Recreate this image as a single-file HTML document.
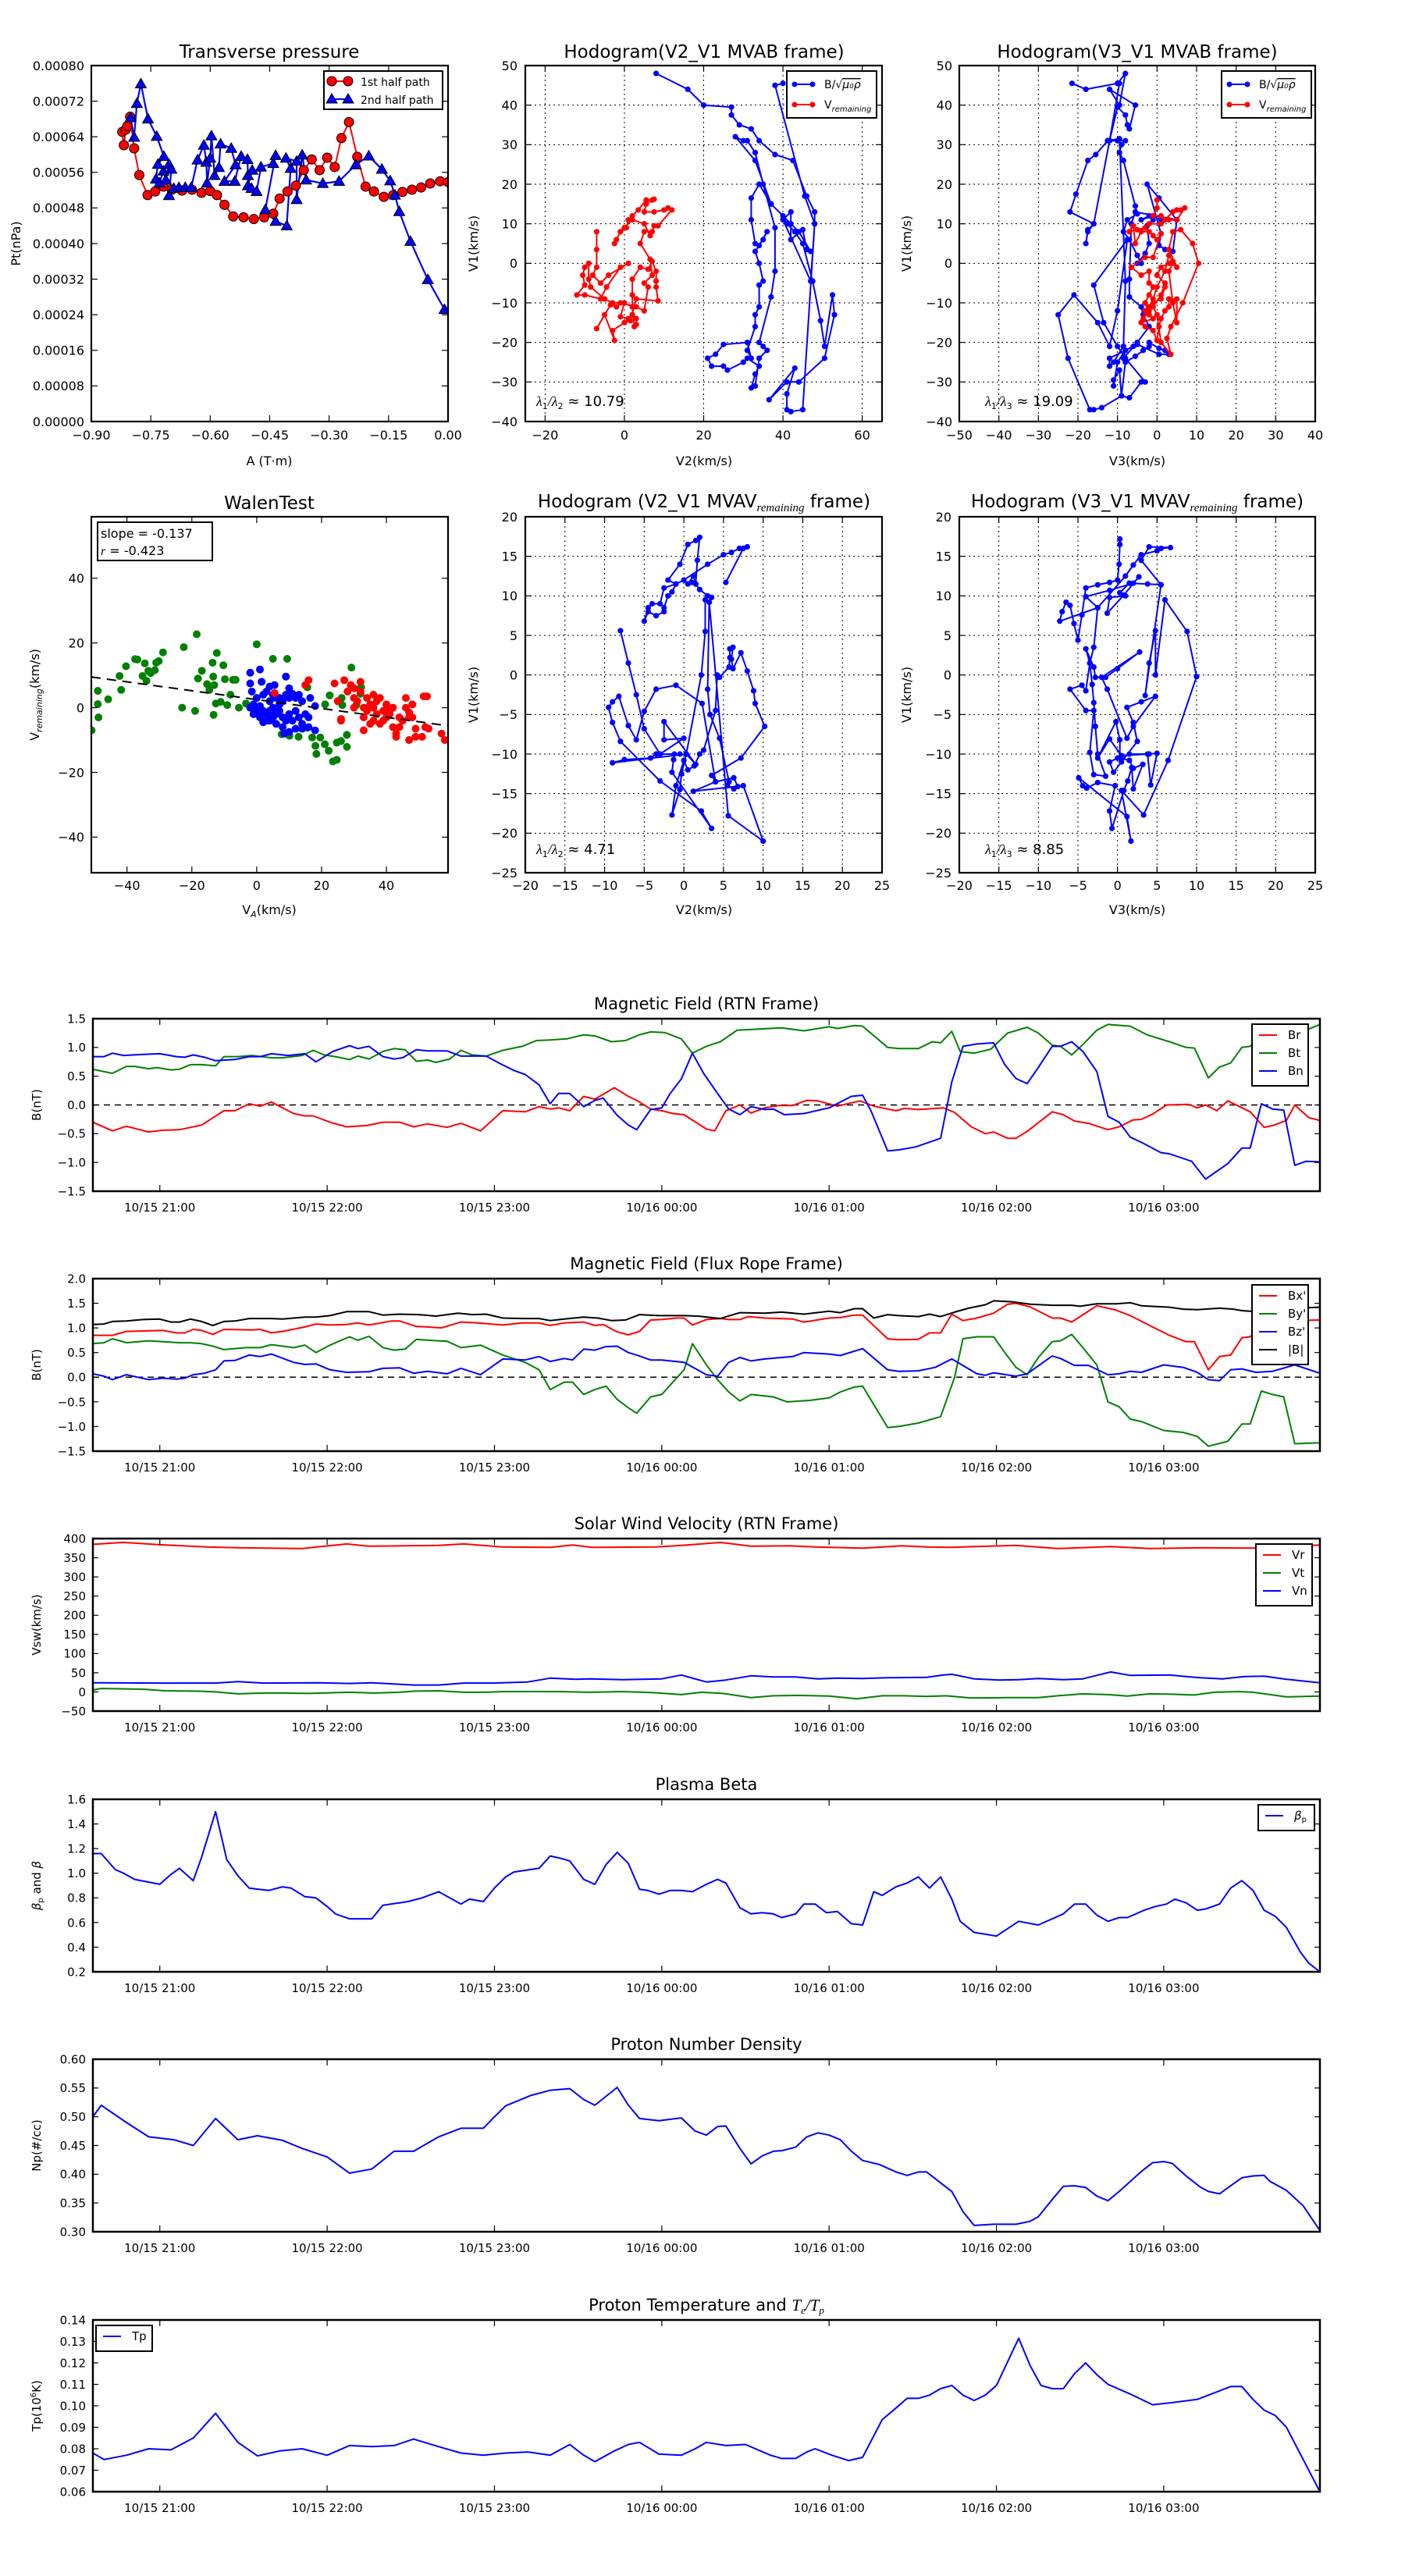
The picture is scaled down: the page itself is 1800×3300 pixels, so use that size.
<!DOCTYPE html>
<html><head><meta charset="utf-8">
<style>
html,body{margin:0;padding:0;background:#fff;}
svg{display:block;font-family:"DejaVu Sans","Liberation Sans",sans-serif;}
</style></head>
<body>
<svg id="fig" xmlns="http://www.w3.org/2000/svg" width="1800" height="3300" viewBox="0 0 1800 3300">
<rect x="0" y="0" width="1800" height="3300" fill="#fff"/>
</svg>
<script>
// ---------------- DATA ----------------
// Transverse pressure (Pt in units of 1e-5 nPa)
const p1A = [-0.822,-0.818,-0.813,-0.809,-0.802,-0.792,-0.779,-0.758,-0.739,-0.718,-0.697,-0.671,-0.646,-0.622,-0.60,-0.583,-0.564,-0.542,-0.516,-0.49,-0.464,-0.441,-0.425,-0.405,-0.384,-0.364,-0.344,-0.324,-0.305,-0.286,-0.269,-0.25,-0.229,-0.208,-0.187,-0.162,-0.138,-0.115,-0.091,-0.068,-0.045,-0.02,0];
const p1Pt = [65.1,62.1,65.6,66.4,68.5,61.4,55.4,50.9,51.7,52.8,52.1,51.9,52.1,51.4,51.8,50.9,48.7,46.1,45.9,45.5,45.9,46.7,50.1,51.7,53,56.5,58.9,56.5,59.3,57.2,63.7,67.3,59.5,52.8,51.7,50.5,50.9,51.6,52.1,52.6,53.5,54,53.8];
const p2A = [-0.801,-0.792,-0.785,-0.775,-0.757,-0.735,-0.717,-0.732,-0.737,-0.728,-0.718,-0.712,-0.704,-0.698,-0.704,-0.692,-0.679,-0.663,-0.648,-0.632,-0.616,-0.61,-0.608,-0.60,-0.597,-0.589,-0.578,-0.574,-0.547,-0.536,-0.564,-0.538,-0.522,-0.506,-0.505,-0.494,-0.505,-0.496,-0.483,-0.472,-0.441,-0.435,-0.461,-0.435,-0.407,-0.397,-0.409,-0.382,-0.382,-0.368,-0.358,-0.316,-0.275,-0.233,-0.2,-0.167,-0.146,-0.134,-0.123,-0.095,-0.051,-0.009];
const p2Pt = [68.3,63.9,71.5,75.9,68,64.1,59.6,57.8,54.5,53.6,56.3,54.3,57.8,56.7,50.8,52.4,52.6,52.6,52.6,58.8,62.1,58.3,53.6,59.2,64.2,55.3,57.1,62.4,61.4,57.7,54,54,59.6,58.9,55.3,56.5,53,52.4,51.7,57.2,58,59.8,47.6,45,44,56.9,59.2,58.5,49.9,59.9,54.3,53.5,54,57.7,59.7,56.7,54.1,50.9,47.2,40.5,31.9,25.2];

// Hodogram V2_V1 MVAB
const h1Bv2 = [8,16,20,27,27,29,32,34,38,42.5,46,48,48,47,40,42,42,45,46,47,44,42,37,33,28,30,31,33,35,38,38,37,34,35,36,34,33,32,33,34,31,30,26,25,22,21,23,25,31,32,31,33,33,34,34,35,34,33,35,36,34,33,32,32,34,37,40,41,43,45,47.5,49.5,50.5,52.5,53,50.5,44,41,36.5,43,41,41,42,45,48,45.5,38,40];
const h1Bv1 = [48,44,40,39.5,37.5,35,34,31,27.5,26,17,13,10,-4.5,11,13,6,8.5,3.5,3,8,10,15,26,32,31,31,28,20,9,-2,-8.5,-20,-21,-22,-24,-31,-31.5,-28,-26,-24,-25,-27,-26,-26,-24,-23,-20.5,-20,-24,-22,-16,-13,-11,-5.5,-4.5,0,3,6,8,4.5,5,11,16.5,20,15,12,10,8,5,-4.5,-14.5,-21,-8,-13,-24,-30,-30,-34.5,-26.5,-33,-37,-37.5,-37,10,17,45,45.5];
const h1Rv2 = [-7,-7,-7,-8,-6,-4,1,-1,-4.5,-6,-10,-12,-10,-10.5,-10,-9,-9,-8.5,-5,-3,0,-1,1,2,3,3,2.5,2,2,2,4,6,7,8,8,8,8.5,3,1.5,0,-3,-2.5,-5,-7,-3.5,-2,-1,3,5,6,5,7,6.5,4,5,7,7.5,6.5,5,2,0,-1,-2,-2.5,-1,0.5,1,2,3.5,5.5,7,7.5,5.5,5,7.5,10,11,12,8.5];
const h1Rv1 = [8,3.5,-1,-3,-5,-3,0,-1,-6,-9,-8,-8,-5.5,-3,-1,0,-4,-6,-9,-10,-10,-13.5,-14,-13,-14,-15.5,-16,-11,-8,-4,-1,-1.5,0.5,-2,-4.5,-6,-9.5,-9,-14.5,-15,-17,-19.5,-13,-16.5,-10.5,-11,-10,-11,-12,-6,-5,-3,1,5,8,8,9.5,7,10,11,9,8,6,5,8,9,11,12,13.5,16,16,16.2,15,13,13,13.5,14,13.5,9.5];

// Hodogram V3_V1 MVAB
const h2Bv3 = [-21.5,-18,-10,-8,-9.5,-12,-5.5,-7,-7.5,-8,-10,-12,-10,-8,-9,-9.5,-8.5,-5.5,-5,-7.5,-8.5,-7,-5,-4,-5,-3,-2,-2.5,-1,-2,-4,-1,1,5,4,2,0.5,1,-2.5,0.5,5,-5.5,-6.5,-7,-7,-4,-3.5,-2,-5,-8.5,-8,-10,-11,-11,-9.5,-9,-7,-4,-3,-8,-10,-13.5,-16,-7.5,-10,-12,-15,-21,-25,-22.5,-17,-16,-14,-9,-8,-5.5,-3.5,-2,-2,0.5,2,3,0.5,-5,-6,-12,-12,-11,-8.5,-8,-9.5,-12.5,-15.5,-17.5,-20.5,-22,-16,-17.5,-18,-17.5,-16,-12,-9.5];
const h2Bv1 = [45.5,44,45.5,48,40,44,40,34,35,37.5,39.5,31,31,31,30,28,26,14.5,12.5,11,8,6,2,0,0,2.5,5,9.5,11,12,11,12,11,11,3,3.5,4.5,7.5,20,16.5,11,13,10,-4,-8.5,-11,-13,-16,-20,-24,-22,-25,-31,-29.5,-27,-33.5,-34,-30,-30,-24,-21,-15,-5.5,6,-12,-21,-15,-8,-13,-24,-37,-37,-36.5,-33.5,-25,-23.5,-22,-21,-20,-21.5,-22,-23,-23,-20.5,-21,-24,-26,-25,-21,-4.5,31.5,31,27.5,26,17.5,13,10,8.5,5,8,10,31,45.5];
const h2Rv3 = [0,0,-1,1,2,4,5,6,7,5,3,1,-2,-3,-5,-7,-6,-5.5,-4,-2,-1,0,1,-1,-3,-6.5,-4,-2,-2,-1,-2,-3,-2,-1,-4,-3,-1,0,0.5,1,2,3,3,4,5,5,4,3,4,5,3,4,6,9,10.5,6.5,3.5,2.5,3.5,1,0,-1,1,2,0,1,3,4,3,2,0,-1,-2,-3,-3.5,-2,-1,1,2];
const h2Rv1 = [16,14,12,12,11,13,13.5,13.5,14,11,11,10,10,9,8.5,8,9.5,5,8,8,7,6,7.5,1.5,1.5,-1,-3,-2,-5,-6,-8,-10,-13,-14,-15,-16,-17,-19.5,-16,-14,-12,-11,-9,-9.5,-9,-15,-10,-2,0,-1,3.5,8,8.5,5,0,-10,-16,-19,-23,-20,-13,-11,-8,-5,-3,-1,0,0.5,2,-2,-6,-9,-11,-12,-14,-12,-10,-9,-6];

// Hodogram V2_V1 MVAV
const h3v2 = [5.3,7.5,8,7,6,5,3,0,-1,-2.5,-3,-4,-4.5,-5,-4.5,-3.5,-2.5,-2.5,-2,-1.5,-1,-2,-0.5,0.5,1.5,2,1.7,1.5,1,0.5,1.2,1.5,2,3,3.5,3.2,2.7,2.7,2.2,0.3,-0.3,-0.5,-1.5,-1,0,0.5,1.3,2,2.5,4,4.2,4.5,5.7,5.8,5.8,6.2,6,6.2,7.2,8,8.8,9,10.2,7.2,3.5,4,6.3,6.8,6.3,5.5,5.7,4.5,3.3,3,3.2,5.6,10,7.5,1.2,4,2.3,-1,-3.5,-5,-6,-7,-8.2,-9,-9.5,-9,-8,-3,2.2,3.5,-1.5,-1.3,-1.2,-0.5,-3.5,-4.2,-7.5,-9,0.3,1.5,-2.5,-2.5,0,-3,-5,-6,-7,-8];
const h3v1 = [11.7,16,16.2,16,15.5,15.2,14,12,11.5,11,9,9,8.5,6.8,8,7.5,8,8.5,10,10.5,11.5,12,14,16.5,17,17.4,14.5,11.5,11.7,11.5,12.5,11.5,10.8,10,9.8,9.2,9.5,5.5,0,-10,-12.5,-14.5,-17.7,-14,-10.8,-12,-11.5,-10,-9.5,-4.5,0,-0.3,1,2.2,3.3,3.5,2,0.8,2.8,0.5,-2,-3.6,-6.5,-10.5,-12.7,-13.5,-13,-14.1,-14.4,-14,-13.5,-8,-5,-1.8,9.2,-17.8,-21,-14,-14.7,-13.5,-3.6,-1.3,-1.8,-4.6,-8.2,-6.4,-2.7,-3.4,-4.1,-6,-8.4,-13.4,-17.2,-19.4,-12.3,-10.7,-10,-10,-10,-10.5,-10.7,-11.1,-10,-11.3,-5.9,-8.2,-8,-10,-6.8,-2.5,1.5,5.6];

// Hodogram V3_V1 MVAV
const h4v3 = [0.3,0.3,0.2,0,-1,-2.5,-4,-4.5,-5,-5.5,-6,-6.5,-7,-7.3,-2.5,-3,-3.5,-3.2,-3,-2.8,-2.5,-1.5,-3,-3.5,-3,-4,-6,-4.5,-4,-3.5,-4,-3,-2.8,-1.5,0,2.8,-2,-1.3,1.2,2,4.8,3,1.2,2,2.5,0.5,-0.5,-1,0,1.5,4,5,4.2,3.8,0.5,-1,-2.5,-0.2,0.3,0.3,1.5,2,3.2,2,1.8,1.3,0.8,-0.7,-1,-0.3,-2.5,-3.9,-4.4,-4.9,1.2,1.7,0.5,3.3,6.4,10,8.8,6,4.8,4.8,4,3.5,5.5,3.8,1.5,0.3,1,-1,-1.3,0.8,2.7,2,-1,-4,-2.5,1,2,3,5,5.5,6.7,4,3,5.5];
const h4v1 = [17.2,16.5,14,12,11.7,11.4,11,7.6,4.4,6.5,8.8,9.2,8,6.8,8.5,3.5,1.5,-1.2,-3.5,-6.5,-10,-12.8,-12.6,-9.8,-4.5,-4.5,-1.8,-1.3,-2,1.5,3.3,1,-0.3,-0.3,0.8,2.9,-0.3,-1.8,-8,-6.5,-2.7,-3.4,-4.1,-6,-8.4,-11,-12.3,-11,-10.5,-10,-10,-9.9,-13.9,-10,-10.2,-8.1,-10.5,-5.9,-8.2,-10.5,-10.8,-11.8,-11.3,-14.4,-11.7,-13.4,-14.6,-19.4,-17.2,-14,-13.6,-14.3,-14,-13,-17.9,-21,-14.6,-17.7,-10.8,-0.2,5.5,9.5,0,5.6,1.5,-2.6,11.4,11.5,11.6,10.4,10,9.8,7.8,10.1,12.4,11.6,10.7,9.9,8.5,12.5,13.9,15.2,15.7,16,16.1,16.2,14.5,11.4];

// Walen test
const wGreenVA = [-50.9,-49,-49,-48.8,-45.8,-42.3,-41.8,-40.3,-37.5,-36.8,-35.2,-34.5,-34,-33.4,-32.7,-31.4,-31,-30.2,-28.9,-23,-22.5,-19,-18.5,-18.1,-16.9,-15.3,-14.6,-13.6,-13.4,-13.3,-13.1,-12.6,-12.3,-11.1,-10.3,-9.8,-9.1,-8.1,-7.3,-6.5,-5.5,-3.3,0,5,9.4,7.7,10.1,12.9,15.6,15.6,17.1,18.1,18.4,19.6,21,21.1,22.2,22.5,23.5,24.7,24.7,26,26.2,26.4,27.8,27.8,29.2,30.7,32.2,32];
const wGreenVR = [-7,5.2,1.1,-3,2.6,9.8,5.5,12.8,15,14.9,9.8,13.7,8.3,11.4,10.7,11.6,13.9,14.4,17.1,0,18.7,-1,22.7,9,11.4,7.3,5.5,13.9,9.6,-2.2,7,1.3,16.9,1.8,13.1,8.8,0.8,4,8.6,8.6,0,1.3,19.6,15.1,15.1,-8.2,-8.7,-9,6.3,-6.2,-9.2,-11.8,-14.3,-9.2,-11.3,1,-13.3,3.8,-16.6,-16.1,-10.8,-10.3,3,0.8,-12.1,-8.4,12.4,0.8,6.3,4.3];
const wBlueVA = [-2,1,1.5,4,5.5,9,10,-2,-1.5,0,2,3,4,5,6,7,8,9,10,11,12,13,14,16.5,18,-2,-1,0,1,2,3,4,5,6,7,8,9,10,11,12,13,14,15,16,1,2,4,6,8,10,12,14,16,18,8.5,3,5,7,1,-1];
const wBlueVR = [10.8,11.8,8,6.5,7,9.6,6,7.5,5,3,4,5,2,4,3,1,2,4,3,4.3,3,4,2,3,0.5,0,1,-1,0.5,-1,-2,-1,-3,-2,-1,-3,-4,-2,-4,-1,-3,-5,-2,-3,-3,-4.5,-4,-5,-6,-7.5,-6.5,-6.5,-6,-7,-8,-4,0,3,-1.5,-2];
const wRedVA = [15,16,5.5,24,25,26,26,27,28,29,30,30,31,32,32,33,33,33,34,35,35,36,36,37,37,38,38,39,40,40,41,42,42,43,43,44,44,45,46,46,47,47,47,48,48,49,49,51,51.5,52.5,52,53,57,58,30,34,36,39,41];
const wRedVR = [7,8.5,4.5,7.5,2,-3.5,-4,8.5,5,7,6,3,2,8,5,0,-3,-7,3,1,-5,4,0,2,-2,-5,3,-1,1,-3,-2,0,-6,-8,-9,-6,-3,-4,3,0,-1.5,-3,-10,1,-3,-6.5,-9,-9,3.5,3.5,-6,-6.5,-8,-10,0,-1,-4,-4,-1];
const walenSlope = -0.137;
const walenIntercept = 2.5;

// Time series (time = minutes after 10/15 20:00)
const tsTickTimes = [60,120,180,240,300,360,420];
const tsTickLabels = ['10/15 21:00','10/15 22:00','10/15 23:00','10/16 00:00','10/16 01:00','10/16 02:00','10/16 03:00'];

const brT = [36,43,48,56,61,67,75,83,87,92,96,100,108,112,115,121,127,134,140,146,151,156,163,168,175,183,191,196,200,203,207,212,216,223,228,231,236,240,244,248,256,259,263,268,272,277,282,287,292,296,303,311,316,324,327,332,341,345,351,356,359,364,367,371,380,384,388,393,400,404,409,412,416,421,429,432,435,439,443,451,456,459,464,467,472,476];
const brV = [-0.3,-0.45,-0.37,-0.47,-0.44,-0.43,-0.35,-0.1,-0.1,0.02,-0.02,0.05,-0.15,-0.19,-0.19,-0.3,-0.38,-0.36,-0.3,-0.3,-0.38,-0.33,-0.39,-0.32,-0.45,-0.1,-0.12,-0.03,-0.07,-0.05,-0.1,0.15,0.1,0.3,0.15,0.08,-0.07,-0.1,-0.15,-0.17,-0.42,-0.45,-0.1,0.0,-0.14,-0.05,-0.01,-0.01,0.08,0.07,-0.02,0.07,-0.02,-0.1,-0.06,-0.08,-0.05,-0.13,-0.38,-0.5,-0.47,-0.58,-0.58,-0.46,-0.12,-0.17,-0.28,-0.32,-0.43,-0.38,-0.26,-0.25,-0.16,0.0,0.01,-0.05,0.0,-0.1,0.07,-0.12,-0.39,-0.36,-0.27,0.0,-0.22,-0.27];
const btT = [36,43,48,51,56,59,64,67,71,75,80,83,88,93,100,104,111,115,119,124,128,131,135,140,144,148,152,156,159,164,168,172,177,183,190,195,200,206,212,216,222,227,232,236,241,247,251,256,261,267,275,283,291,300,303,309,312,321,325,332,337,340,344,347,352,358,364,371,375,380,383,387,391,396,400,408,414,422,428,431,436,440,444,448,451,454,461,467,472,476];
const btV = [0.62,0.55,0.67,0.67,0.63,0.65,0.61,0.62,0.7,0.7,0.68,0.84,0.84,0.86,0.82,0.82,0.86,0.95,0.87,0.83,0.79,0.85,0.8,0.93,0.98,0.96,0.76,0.78,0.74,0.8,0.95,0.87,0.85,0.95,1.02,1.12,1.13,1.15,1.22,1.2,1.1,1.12,1.22,1.27,1.26,1.15,0.9,1.02,1.1,1.3,1.32,1.34,1.29,1.36,1.33,1.38,1.37,1.0,0.98,0.98,1.1,1.08,1.28,0.93,0.9,0.97,1.25,1.35,1.25,1.04,1.02,0.87,1.05,1.3,1.4,1.37,1.22,1.1,1.0,0.99,0.47,0.66,0.73,1.0,1.02,1.17,1.25,1.27,1.32,1.4];
const bnT = [36,40,43,47,54,60,66,69,72,76,80,87,92,96,100,106,112,116,122,128,131,135,140,144,147,152,156,163,168,174,177,182,187,191,196,200,203,207,212,216,219,224,228,231,236,240,243,247,251,255,260,264,268,272,277,280,284,291,300,308,312,315,321,325,331,340,344,348,353,359,363,367,371,375,380,383,387,391,396,400,404,408,412,419,422,430,435,443,448,451,455,459,463,467,471,476];
const bnV = [0.84,0.84,0.9,0.86,0.88,0.89,0.84,0.83,0.87,0.83,0.77,0.79,0.84,0.84,0.89,0.86,0.89,0.75,0.93,1.03,0.98,1.02,0.84,0.8,0.82,0.96,0.94,0.94,0.85,0.85,0.85,0.72,0.6,0.53,0.35,0.02,0.2,0.2,-0.03,0.08,0.12,-0.18,-0.35,-0.43,-0.08,-0.05,0.2,0.45,0.9,0.55,0.2,-0.07,-0.17,-0.03,-0.08,-0.07,-0.17,-0.15,-0.05,0.15,0.17,-0.1,-0.8,-0.78,-0.73,-0.58,0.4,1.02,1.06,1.08,0.7,0.46,0.37,0.65,1.02,1.02,1.1,0.93,0.58,-0.2,-0.3,-0.56,-0.65,-0.83,-0.85,-0.98,-1.29,-1.02,-0.75,-0.75,0.02,-0.07,-0.09,-1.05,-0.98,-0.99];

const bxT = [36,43,48,56,61,66,69,72,75,79,83,93,96,100,104,112,116,121,127,131,135,143,146,152,156,161,168,174,183,190,196,200,205,212,216,219,224,228,232,236,240,245,248,251,256,261,264,268,271,277,287,291,300,304,309,312,321,325,332,336,340,344,348,353,359,364,367,372,380,383,387,396,403,408,416,422,428,431,436,440,444,448,451,455,461,467,476];
const bxV = [0.85,0.85,0.93,0.94,0.95,0.9,0.9,0.97,0.95,0.87,0.97,0.96,0.97,0.9,0.93,1.02,1.08,1.06,1.07,1.1,1.06,1.14,1.14,1.03,1.02,1.0,1.12,1.1,1.06,1.1,1.1,1.05,1.1,1.12,1.05,1.07,0.92,0.86,0.93,1.16,1.17,1.2,1.2,1.06,1.17,1.19,1.17,1.17,1.23,1.2,1.18,1.12,1.2,1.21,1.26,1.26,0.78,0.76,0.77,0.9,0.9,1.28,1.15,1.2,1.3,1.48,1.5,1.43,1.2,1.2,1.12,1.45,1.36,1.25,1.02,0.85,0.72,0.72,0.15,0.42,0.45,0.8,0.82,1.05,1.1,1.15,1.16];
const byT = [36,40,43,48,56,61,67,71,75,79,83,91,96,100,108,112,116,121,128,131,135,140,144,148,152,156,163,168,175,183,191,196,200,205,208,212,216,220,224,228,231,236,240,244,248,251,256,260,264,268,272,280,285,293,300,304,309,312,321,325,332,340,345,348,353,359,363,367,371,375,380,383,387,391,396,400,404,408,412,420,427,432,436,443,448,451,455,459,463,467,476];
const byV = [0.68,0.7,0.78,0.7,0.74,0.72,0.7,0.7,0.68,0.63,0.56,0.6,0.6,0.66,0.6,0.65,0.5,0.65,0.82,0.75,0.83,0.6,0.55,0.57,0.77,0.75,0.73,0.6,0.65,0.45,0.3,0.15,-0.25,-0.1,-0.1,-0.35,-0.25,-0.18,-0.45,-0.62,-0.73,-0.4,-0.35,-0.1,0.15,0.68,0.25,-0.05,-0.3,-0.48,-0.35,-0.4,-0.5,-0.47,-0.42,-0.3,-0.2,-0.18,-1.02,-1.0,-0.93,-0.8,0.0,0.78,0.82,0.82,0.5,0.2,0.05,0.4,0.72,0.74,0.87,0.6,0.25,-0.5,-0.6,-0.85,-0.9,-1.08,-1.12,-1.2,-1.4,-1.3,-0.95,-0.95,-0.28,-0.35,-0.4,-1.35,-1.33];
const bzT = [36,40,43,48,56,61,66,69,72,76,80,83,87,92,96,100,108,112,116,121,127,135,140,146,151,156,163,168,175,183,191,196,200,205,208,212,216,220,224,228,231,236,240,248,256,260,264,268,272,277,287,291,300,304,312,321,325,332,338,344,353,356,359,367,371,380,383,388,393,400,404,408,412,420,427,432,436,440,444,448,453,459,467,476];
const bzV = [0.07,0.02,-0.05,0.05,-0.05,-0.02,-0.04,-0.02,0.05,0.08,0.15,0.33,0.34,0.45,0.42,0.47,0.3,0.26,0.27,0.15,0.1,0.11,0.18,0.19,0.08,0.12,0.07,0.18,0.05,0.37,0.35,0.42,0.32,0.38,0.35,0.57,0.55,0.62,0.63,0.5,0.45,0.35,0.35,0.3,0.05,0.02,0.3,0.4,0.33,0.37,0.42,0.5,0.47,0.44,0.58,0.15,0.12,0.13,0.2,0.37,0.07,0.04,0.09,0.02,0.07,0.43,0.38,0.24,0.24,0.05,0.07,0.12,0.1,0.25,0.2,0.1,-0.05,-0.07,0.15,0.17,0.1,0.12,0.25,0.08];
const bmT = [36,40,43,48,54,60,64,67,71,75,79,83,87,92,100,104,108,112,116,121,127,135,140,146,153,159,167,172,177,183,190,196,200,205,212,217,222,227,232,239,248,253,261,268,277,283,291,300,304,309,312,316,321,325,332,336,340,345,350,356,359,366,372,380,387,390,396,403,408,412,422,427,432,440,445,448,453,454,461,467,476];
const bmV = [1.07,1.08,1.13,1.14,1.17,1.18,1.12,1.12,1.18,1.13,1.05,1.13,1.14,1.19,1.19,1.18,1.2,1.22,1.22,1.25,1.33,1.33,1.26,1.28,1.27,1.24,1.3,1.27,1.28,1.2,1.19,1.19,1.15,1.18,1.22,1.2,1.15,1.16,1.27,1.25,1.25,1.24,1.19,1.31,1.3,1.32,1.28,1.34,1.31,1.39,1.39,1.2,1.27,1.25,1.23,1.28,1.23,1.32,1.4,1.47,1.55,1.53,1.48,1.46,1.46,1.44,1.49,1.49,1.51,1.45,1.42,1.38,1.37,1.4,1.38,1.35,1.33,1.37,1.4,1.4,1.42];

const vrT = [36,47,60,77,88,111,127,135,160,169,183,200,208,215,238,249,261,272,286,295,312,326,335,344,352,367,382,401,415,433,453,476];
const vrV = [385,390,384,378,376,374,386,380,382,386,378,377,383,377,378,383,390,380,381,378,375,381,378,377,379,382,374,379,374,376,375,383];
const vtT = [36,39,54,62,74,80,88,97,105,113,128,137,146,151,160,169,177,183,203,214,226,237,247,254,262,272,280,289,300,310,319,327,335,342,351,364,375,382,391,400,407,415,423,431,438,447,452,464,476];
const vtV = [5,9,7,3,2,0,-5,-3,-3,-4,-1,-3,-1,2,3,-1,-1,1,1,-1,1,-2,-7,-1,-4,-15,-10,-9,-11,-18,-10,-10,-12,-10,-16,-15,-15,-10,-5,-7,-11,-5,-6,-8,-1,1,-1,-13,-11];
const vnT = [36,60,80,88,97,117,128,136,151,160,169,180,192,200,209,214,226,240,247,256,263,272,280,288,296,303,312,321,335,341,344,352,361,368,375,384,391,397,401,408,422,433,441,449,456,464,476];
const vnV = [24,23,23,27,23,24,22,24,18,18,23,23,26,36,33,34,32,34,44,26,31,42,39,39,34,36,35,37,38,44,46,34,31,32,35,32,34,45,52,43,44,37,34,40,41,33,24];

const betaT = [36,39,44,47,51,60,64,67,72,75,80,84,88,92,99,104,107,112,116,120,123,128,136,140,146,149,154,160,168,171,176,180,184,187,196,200,204,207,212,216,220,224,228,232,235,239,243,247,251,256,260,263,268,272,276,280,283,288,291,295,299,303,308,312,316,319,324,328,332,336,340,344,347,352,360,368,375,384,388,392,396,400,404,407,413,417,421,424,428,432,435,440,444,448,452,456,460,464,469,472,476];
const betaV = [1.16,1.16,1.03,1.0,0.95,0.91,0.99,1.04,0.94,1.13,1.5,1.11,0.98,0.88,0.86,0.89,0.88,0.81,0.8,0.73,0.67,0.63,0.63,0.74,0.76,0.77,0.8,0.85,0.75,0.79,0.77,0.88,0.97,1.01,1.04,1.14,1.12,1.1,0.95,0.91,1.07,1.17,1.08,0.87,0.86,0.83,0.86,0.86,0.85,0.91,0.95,0.92,0.72,0.67,0.68,0.67,0.64,0.67,0.75,0.75,0.68,0.69,0.59,0.58,0.85,0.82,0.89,0.92,0.97,0.88,0.97,0.79,0.61,0.52,0.49,0.61,0.58,0.67,0.75,0.75,0.66,0.61,0.64,0.64,0.7,0.73,0.75,0.79,0.76,0.7,0.71,0.75,0.88,0.94,0.86,0.7,0.65,0.56,0.36,0.27,0.2];

const npT = [36,39,48,56,65,72,80,88,95,104,111,120,128,136,144,151,160,168,176,180,184,193,200,207,212,216,224,228,232,239,247,252,256,260,263,268,272,276,280,283,288,292,296,300,304,308,312,318,324,328,332,335,340,344,348,352,359,367,372,375,380,384,388,392,396,400,404,412,416,420,423,428,433,436,440,444,448,452,456,458,464,470,476];
const npV = [0.50,0.52,0.49,0.465,0.46,0.45,0.497,0.46,0.467,0.459,0.445,0.43,0.402,0.409,0.44,0.44,0.465,0.48,0.48,0.5,0.519,0.537,0.546,0.549,0.53,0.52,0.551,0.52,0.497,0.493,0.498,0.475,0.468,0.483,0.484,0.445,0.418,0.432,0.44,0.441,0.447,0.465,0.472,0.468,0.46,0.44,0.424,0.417,0.404,0.398,0.404,0.404,0.385,0.37,0.335,0.311,0.313,0.313,0.318,0.326,0.356,0.379,0.38,0.377,0.362,0.354,0.37,0.405,0.42,0.422,0.419,0.397,0.378,0.37,0.366,0.38,0.394,0.397,0.398,0.388,0.372,0.345,0.302];

const tpT = [36,40,48,56,64,72,80,88,95,103,111,120,128,136,144,151,160,168,176,184,192,200,207,212,216,223,228,232,239,247,252,256,263,270,279,283,288,292,295,301,307,312,319,324,328,332,336,340,344,348,352,356,360,368,372,376,380,384,388,392,396,400,408,416,423,432,444,448,452,456,460,464,476];
const tpV = [0.078,0.075,0.077,0.08,0.0795,0.085,0.0965,0.083,0.0767,0.079,0.08,0.077,0.0815,0.081,0.0815,0.0845,0.081,0.078,0.077,0.078,0.0785,0.077,0.082,0.077,0.074,0.079,0.082,0.083,0.0775,0.077,0.08,0.083,0.0815,0.082,0.077,0.0755,0.0755,0.0785,0.08,0.077,0.0745,0.076,0.0935,0.099,0.1035,0.1035,0.105,0.108,0.1095,0.105,0.1025,0.105,0.1095,0.1315,0.119,0.1095,0.108,0.108,0.115,0.12,0.1145,0.11,0.1055,0.1005,0.1015,0.103,0.109,0.109,0.103,0.098,0.0955,0.09,0.06];

// ---------------- DRAWING ----------------
const NS = 'http://www.w3.org/2000/svg';
const svg = document.getElementById('fig');
let clipId = 0;
function mk(tag, attrs, parent) {
  const e = document.createElementNS(NS, tag);
  for (const k in attrs) e.setAttribute(k, attrs[k]);
  (parent || svg).appendChild(e);
  return e;
}
function txt(str, x, y, size, anchor, parent) {
  const t = mk('text', {x: x, y: y, 'font-size': size, 'text-anchor': anchor || 'middle', fill: '#000'}, parent);
  t.textContent = str;
  return t;
}
function fmtNeg(s) { return s.replace('-', '\u2212'); }

function makeAxes(name, x0, y0, x1, y1, xmin, xmax, ymin, ymax) {
  const g = mk('g', {});
  
  
  const id = 'clip' + (clipId++);
  const cp = mk('clipPath', {id: id}, g);
  mk('rect', {x: x0, y: y0, width: x1 - x0, height: y1 - y0}, cp);
  const data = mk('g', {'clip-path': 'url(#' + id + ')'}, g);
  
  
  return {g: g, data: data, x0: x0, y0: y0, x1: x1, y1: y1,
    sx: v => x0 + (v - xmin) / (xmax - xmin) * (x1 - x0),
    sy: v => y1 - (v - ymin) / (ymax - ymin) * (y1 - y0)};
}
function frame(ax, sw) {
  const r = mk('rect', {x: ax.x0, y: ax.y0, width: ax.x1 - ax.x0, height: ax.y1 - ax.y0, fill: 'none', stroke: '#000', 'stroke-width': sw || 2.2}, ax.g);
  
  
}
function xTicks(ax, vals, labels, labelY, size, len) {
  vals.forEach((v, i) => {
    const X = ax.sx(v);
    mk('line', {x1: X, y1: ax.y1, x2: X, y2: ax.y1 - len, stroke: '#000', 'stroke-width': 1.2}, ax.g);
    mk('line', {x1: X, y1: ax.y0, x2: X, y2: ax.y0 + len, stroke: '#000', 'stroke-width': 1.2}, ax.g);
    const t = txt(labels[i], X, labelY, size, 'middle', ax.g);
    
    
  });
}
function yTicks(ax, vals, labels, labelX, size, len) {
  vals.forEach((v, i) => {
    const Y = ax.sy(v);
    mk('line', {x1: ax.x0, y1: Y, x2: ax.x0 + len, y2: Y, stroke: '#000', 'stroke-width': 1.2}, ax.g);
    mk('line', {x1: ax.x1, y1: Y, x2: ax.x1 - len, y2: Y, stroke: '#000', 'stroke-width': 1.2}, ax.g);
    const t = txt(labels[i], labelX, Y + size * 0.36, size, 'end', ax.g);
    
    
  });
}
function grid(ax, xv, yv) {
  xv.forEach(v => mk('line', {x1: ax.sx(v), y1: ax.y0, x2: ax.sx(v), y2: ax.y1, stroke: '#000', 'stroke-width': 1, 'stroke-dasharray': '2,4'}, ax.data));
  yv.forEach(v => mk('line', {x1: ax.x0, y1: ax.sy(v), x2: ax.x1, y2: ax.sy(v), stroke: '#000', 'stroke-width': 1, 'stroke-dasharray': '2,4'}, ax.data));
}
function polyline(ax, xs, ys, color, w, name) {
  const n = Math.min(xs.length, ys.length);
  const pts = [];
  for (let i = 0; i < n; i++) pts.push(ax.sx(xs[i]).toFixed(1) + ',' + ax.sy(ys[i]).toFixed(1));
  const p = mk('polyline', {points: pts.join(' '), fill: 'none', stroke: color, 'stroke-width': w, 'stroke-linejoin': 'round'}, ax.data);
  
  
  return p;
}
function dots(ax, xs, ys, color, r, name, stroke) {
  const n = Math.min(xs.length, ys.length);
  const g = mk('g', {}, ax.data);
  
  
  for (let i = 0; i < n; i++) {
    mk('circle', {cx: ax.sx(xs[i]), cy: ax.sy(ys[i]), r: r, fill: color, stroke: stroke || 'none', 'stroke-width': 1}, g);
  }
}
function tris(ax, xs, ys, color, s, name) {
  const n = Math.min(xs.length, ys.length);
  const g = mk('g', {}, ax.data);
  
  
  for (let i = 0; i < n; i++) {
    const X = ax.sx(xs[i]), Y = ax.sy(ys[i]);
    mk('polygon', {points: (X) + ',' + (Y - s) + ' ' + (X - s) + ',' + (Y + s * 0.75) + ' ' + (X + s) + ',' + (Y + s * 0.75), fill: color, stroke: '#000', 'stroke-width': 1}, g);
  }
}
function title(str, x, y, size, name) {
  const t = txt(str, x, y, size, 'middle');
  
  
  return t;
}
function ylabel(str, x, y, size, name) {
  const t = mk('text', {x: 0, y: 0, 'font-size': size, 'text-anchor': 'middle', transform: 'translate(' + x + ',' + y + ') rotate(-90)'});
  t.textContent = str;
  
  
  return t;
}
function range(a, b, s) { const r = []; for (let v = a; v <= b + 1e-9; v += s) r.push(Math.round(v * 1e6) / 1e6); return r; }

// ===== Panel 1: Transverse pressure =====
(function () {
  const ax = makeAxes('transverse-pressure-chart', 117, 84, 574, 540, -0.9, 0, 0, 80);
  polyline(ax, p1A, p1Pt, '#ff0000', 2, 'first-half-path-line');
  polyline(ax, p2A, p2Pt, '#0000ff', 2.2, 'second-half-path-line');
  dots(ax, p1A, p1Pt, '#ff0000', 6, 'first-half-path-markers', '#000');
  tris(ax, p2A, p2Pt, '#0000ff', 7, 'second-half-path-markers');
  const xv = range(-0.9, 0, 0.15);
  xTicks(ax, xv, xv.map(v => fmtNeg(v.toFixed(2))), 563, 16, 8);
  const yv = range(0, 80, 8);
  yTicks(ax, yv, yv.map(v => (v * 1e-5).toFixed(5)), 108, 16, 8);
  frame(ax);
  // legend
  const lg = mk('g', {});
  
  
  mk('rect', {x: 415, y: 91, width: 152, height: 49, fill: '#fff', stroke: '#000', 'stroke-width': 2}, lg);
  mk('line', {x1: 424, y1: 104, x2: 446, y2: 104, stroke: '#ff0000', 'stroke-width': 2}, lg);
  mk('circle', {cx: 425, cy: 104, r: 6, fill: '#ff0000', stroke: '#000'}, lg);
  mk('circle', {cx: 446, cy: 104, r: 6, fill: '#ff0000', stroke: '#000'}, lg);
  txt('1st half path', 462, 110, 14, 'start', lg);
  mk('line', {x1: 424, y1: 127, x2: 446, y2: 127, stroke: '#0000ff', 'stroke-width': 2}, lg);
  mk('polygon', {points: '425,120 418,132 432,132', fill: '#0000ff', stroke: '#000'}, lg);
  mk('polygon', {points: '446,120 439,132 453,132', fill: '#0000ff', stroke: '#000'}, lg);
  txt('2nd half path', 462, 133, 14, 'start', lg);
  title('Transverse pressure', 345, 74, 23, 'transverse-pressure-title');
  ylabel('Pt(nPa)', 26, 312, 16, 'pressure-y-axis-title');
  const xl = txt('A (T\u00b7m)', 345, 596, 16, 'middle');
  
  
})();

function hodoLegend(x, y, name) {
  const lg = mk('g', {});
  
  
  mk('rect', {x: x, y: y, width: 115, height: 60, fill: '#fff', stroke: '#000', 'stroke-width': 2}, lg);
  mk('line', {x1: x + 9, y1: y + 17, x2: x + 33, y2: y + 17, stroke: '#0000ff', 'stroke-width': 2}, lg);
  mk('circle', {cx: x + 10, cy: y + 17, r: 3.5, fill: '#0000ff'}, lg);
  mk('circle', {cx: x + 33, cy: y + 17, r: 3.5, fill: '#0000ff'}, lg);
  const t1 = txt('', x + 48, y + 22, 14, 'start', lg);
  t1.innerHTML = 'B/\u221a<tspan font-style="italic" text-decoration="overline">\u03bc\u2080\u03c1</tspan>';
  mk('line', {x1: x + 9, y1: y + 43, x2: x + 33, y2: y + 43, stroke: '#ff0000', 'stroke-width': 2}, lg);
  mk('circle', {cx: x + 10, cy: y + 43, r: 3.5, fill: '#ff0000'}, lg);
  mk('circle', {cx: x + 33, cy: y + 43, r: 3.5, fill: '#ff0000'}, lg);
  const t2 = txt('', x + 48, y + 48, 14, 'start', lg);
  t2.innerHTML = 'V<tspan font-size="10" font-style="italic" dy="4">remaining</tspan>';
}
function lambdaText(x, y, a, b, val, name) {
  const t = txt('', x, y, 18, 'start');
  t.innerHTML = '<tspan font-style="italic" font-family="Liberation Serif, serif">\u03bb</tspan><tspan font-size="11" dy="4">' + a + '</tspan><tspan dy="-4" font-style="italic" font-family="Liberation Serif, serif">/\u03bb</tspan><tspan font-size="11" dy="4">' + b + '</tspan><tspan dy="-4"> \u2248 ' + val + '</tspan>';
  
  
}

// ===== Panel 2: Hodogram V2_V1 MVAB =====
(function () {
  const ax = makeAxes('hodogram-v2-v1-mvab', 673, 84, 1130, 540, -25, 65, -40, 50);
  const xv = range(-20, 60, 20), yv = range(-40, 50, 10);
  grid(ax, xv, yv);
  polyline(ax, h1Bv2, h1Bv1, '#0000ff', 2, 'b-alfven-path');
  dots(ax, h1Bv2, h1Bv1, '#0000ff', 3.6, 'b-alfven-points');
  polyline(ax, h1Rv2, h1Rv1, '#ff0000', 2, 'v-remaining-path');
  dots(ax, h1Rv2, h1Rv1, '#ff0000', 3.6, 'v-remaining-points');
  xTicks(ax, xv, xv.map(v => fmtNeg(String(v))), 563, 16, 8);
  yTicks(ax, yv, yv.map(v => fmtNeg(String(v))), 663, 16, 8);
  frame(ax);
  hodoLegend(1008, 91, 'hodogram-v2-v1-legend');
  lambdaText(687, 520, '1', '2', '10.79', 'eigenvalue-ratio-v2');
  title('Hodogram(V2_V1 MVAB frame)', 902, 74, 23, 'hodogram-v2-v1-title');
  ylabel('V1(km/s)', 612, 312, 16, 'hodogram-v2-y-axis-title');
  const xl = txt('V2(km/s)', 902, 596, 16, 'middle');
  
  
})();

// ===== Panel 3: Hodogram V3_V1 MVAB =====
(function () {
  const ax = makeAxes('hodogram-v3-v1-mvab', 1229, 84, 1685, 540, -50, 40, -40, 50);
  const xv = range(-50, 40, 10), yv = range(-40, 50, 10);
  grid(ax, xv, yv);
  polyline(ax, h2Bv3, h2Bv1, '#0000ff', 2, 'b-alfven-path');
  dots(ax, h2Bv3, h2Bv1, '#0000ff', 3.6, 'b-alfven-points');
  polyline(ax, h2Rv3, h2Rv1, '#ff0000', 2, 'v-remaining-path');
  dots(ax, h2Rv3, h2Rv1, '#ff0000', 3.6, 'v-remaining-points');
  xTicks(ax, xv, xv.map(v => fmtNeg(String(v))), 563, 16, 8);
  yTicks(ax, yv, yv.map(v => fmtNeg(String(v))), 1220, 16, 8);
  frame(ax);
  hodoLegend(1565, 91, 'hodogram-v3-v1-legend');
  lambdaText(1262, 520, '1', '3', '19.09', 'eigenvalue-ratio-v3');
  title('Hodogram(V3_V1 MVAB frame)', 1457, 74, 23, 'hodogram-v3-v1-title');
  ylabel('V1(km/s)', 1167, 312, 16, 'hodogram-v3-y-axis-title');
  const xl = txt('V3(km/s)', 1457, 596, 16, 'middle');
  
  
})();

// ===== Panel 4: Walen test =====
(function () {
  const ax = makeAxes('walen-test-chart', 117, 662, 574, 1118, -51, 59, -51, 59);
  dots(ax, wGreenVA, wGreenVR, '#008000', 5, 'walen-green-points');
  dots(ax, wBlueVA, wBlueVR, '#0000ff', 5, 'walen-blue-points');
  dots(ax, wRedVA, wRedVR, '#ff0000', 5, 'walen-red-points');
  const fl = mk('line', {x1: ax.sx(-51), y1: ax.sy(walenIntercept + walenSlope * -51), x2: ax.sx(59), y2: ax.sy(walenIntercept + walenSlope * 59), stroke: '#000', 'stroke-width': 2, 'stroke-dasharray': '12,8'}, ax.data);
  
  
  const xv = [-40, -20, 0, 20, 40], yv = [-40, -20, 0, 20, 40];
  xTicks(ax, xv, xv.map(v => fmtNeg(String(v))), 1140, 16, 8);
  yTicks(ax, yv, yv.map(v => fmtNeg(String(v))), 108, 16, 8);
  frame(ax);
  const bx = mk('g', {});
  
  
  mk('rect', {x: 125, y: 669, width: 147, height: 49, fill: '#fff', stroke: '#000', 'stroke-width': 2}, bx);
  txt('slope = -0.137', 129, 689, 16, 'start', bx);
  const r = txt('', 129, 711, 16, 'start', bx);
  r.innerHTML = '<tspan font-style="italic" font-family="Liberation Serif, serif">r</tspan> = -0.423';
  title('WalenTest', 345, 652, 23, 'walen-test-title');
  const yl = ylabel('', 50, 890, 16, 'walen-y-axis-title');
  yl.innerHTML = 'V<tspan font-size="11" font-style="italic" dy="4">remaining</tspan><tspan dy="-4">(km/s)</tspan>';
  const xl = txt('', 345, 1171, 16, 'middle');
  xl.innerHTML = 'V<tspan font-size="11" font-style="italic" dy="4">A</tspan><tspan dy="-4">(km/s)</tspan>';
  
  
})();

// ===== Panel 5 & 6: MVAV hodograms =====
function mvavPanel(name, x0, x1, xs, ys, xlab, lamB, lamVal, lamX, titleStr, ylx, cx) {
  const ax = makeAxes(name, x0, 662, x1, 1118, -20, 25, -25, 20);
  const xv = range(-20, 25, 5), yv = range(-25, 20, 5);
  grid(ax, xv, yv);
  polyline(ax, xs, ys, '#0000ff', 2, 'hodogram-path');
  dots(ax, xs, ys, '#0000ff', 3.6, 'hodogram-points');
  xTicks(ax, xv, xv.map(v => fmtNeg(String(v))), 1140, 16, 8);
  yTicks(ax, yv, yv.map(v => fmtNeg(String(v))), x0 - 10, 16, 8);
  frame(ax);
  lambdaText(lamX, 1094, '1', lamB, lamVal, name + '-eigen-ratio');
  const t = title('', cx, 650, 23, name + '-title');
  t.innerHTML = titleStr + ' MVAV<tspan font-size="15" font-style="italic" font-family="Liberation Serif, serif" dy="5">remaining</tspan><tspan dy="-5"> frame)</tspan>';
  ylabel('V1(km/s)', ylx, 890, 16, name + '-y-axis-title');
  const xl = txt(xlab, cx, 1171, 16, 'middle');
  
  
}
mvavPanel('hodogram-v2-v1-mvav', 673, 1130, h3v2, h3v1, 'V2(km/s)', '2', '4.71', 687, 'Hodogram (V2_V1', 612, 902);
mvavPanel('hodogram-v3-v1-mvav', 1229, 1685, h4v3, h4v1, 'V3(km/s)', '3', '8.85', 1262, 'Hodogram (V3_V1', 1167, 1457);

// ===== Time series panels =====
const TS_X0 = 119, TS_X1 = 1691, T_MIN = 36, T_MAX = 476;
function tsPanel(name, y0, y1, ymin, ymax, yvals, ylabels, titleStr, ylab, series, zeroLine) {
  const ax = makeAxes(name, TS_X0, y0, TS_X1, y1, T_MIN, T_MAX, ymin, ymax);
  if (zeroLine) {
    const z = mk('line', {x1: TS_X0, y1: ax.sy(0), x2: TS_X1, y2: ax.sy(0), stroke: '#000', 'stroke-width': 1.5, 'stroke-dasharray': '8,6'}, ax.data);
    
    
  }
  series.forEach(s => polyline(ax, s.t, s.v, s.color, 2, s.name + '-line'));
  xTicks(ax, tsTickTimes, tsTickLabels, y1 + 26, 15, 8);
  yTicks(ax, yvals, ylabels, 110, 15, 7);
  frame(ax, 2.5);
  const t = title('', (TS_X0 + TS_X1) / 2, y0 - 12, 21, name + '-title');
  t.innerHTML = titleStr;
  const yl = ylabel('', 52, (y0 + y1) / 2, 15, name + '-y-axis-title');
  yl.innerHTML = ylab;
  return ax;
}
function tsLegend(x, y, w, entries, name) {
  const lg = mk('g', {});
  
  
  const h = entries.length * 23 + 10;
  mk('rect', {x: x, y: y, width: w, height: h, fill: '#fff', stroke: '#000', 'stroke-width': 2}, lg);
  entries.forEach((e, i) => {
    const yy = y + 14 + i * 23;
    mk('line', {x1: x + 9, y1: yy, x2: x + 32, y2: yy, stroke: e.color, 'stroke-width': 2}, lg);
    const t = txt('', x + 46, yy + 5, 15, 'start', lg);
    t.innerHTML = e.label;
  });
}

tsPanel('magnetic-field-rtn', 1305, 1526, -1.5, 1.5, range(-1.5, 1.5, 0.5), range(-1.5, 1.5, 0.5).map(v => fmtNeg(v.toFixed(1))),
  'Magnetic Field (RTN Frame)', 'B(nT)',
  [{t: brT, v: brV, color: '#ff0000', name: 'br'}, {t: btT, v: btV, color: '#008000', name: 'bt'}, {t: bnT, v: bnV, color: '#0000ff', name: 'bn'}], true);
tsLegend(1604, 1312, 72, [{color: '#ff0000', label: 'Br'}, {color: '#008000', label: 'Bt'}, {color: '#0000ff', label: 'Bn'}], 'rtn-legend');

tsPanel('magnetic-field-flux-rope', 1638, 1859, -1.5, 2.0, range(-1.5, 2.0, 0.5), range(-1.5, 2.0, 0.5).map(v => fmtNeg(v.toFixed(1))),
  'Magnetic Field (Flux Rope Frame)', 'B(nT)',
  [{t: bxT, v: bxV, color: '#ff0000', name: 'bx-prime'}, {t: byT, v: byV, color: '#008000', name: 'by-prime'}, {t: bzT, v: bzV, color: '#0000ff', name: 'bz-prime'}, {t: bmT, v: bmV, color: '#000000', name: 'b-magnitude'}], true);
tsLegend(1604, 1646, 72, [{color: '#ff0000', label: "Bx'"}, {color: '#008000', label: "By'"}, {color: '#0000ff', label: "Bz'"}, {color: '#000000', label: '|B|'}], 'flux-rope-legend');

tsPanel('solar-wind-velocity', 1971, 2192, -50, 400, range(-50, 400, 50), range(-50, 400, 50).map(v => fmtNeg(String(v))),
  'Solar Wind Velocity (RTN Frame)', 'Vsw(km/s)',
  [{t: vrT, v: vrV, color: '#ff0000', name: 'vr'}, {t: vtT, v: vtV, color: '#008000', name: 'vt'}, {t: vnT, v: vnV, color: '#0000ff', name: 'vn'}], false);
tsLegend(1609, 1978, 72, [{color: '#ff0000', label: 'Vr'}, {color: '#008000', label: 'Vt'}, {color: '#0000ff', label: 'Vn'}], 'velocity-legend');

tsPanel('plasma-beta', 2305, 2526, 0.2, 1.6, range(0.2, 1.6, 0.2), range(0.2, 1.6, 0.2).map(v => v.toFixed(1)),
  'Plasma Beta', '<tspan font-style="italic">\u03b2</tspan><tspan font-size="10" dy="3">p</tspan><tspan dy="-3"> and </tspan><tspan font-style="italic">\u03b2</tspan>',
  [{t: betaT, v: betaV, color: '#0000ff', name: 'beta-p'}], false);
tsLegend(1612, 2312, 72, [{color: '#0000ff', label: '<tspan font-style="italic">\u03b2</tspan><tspan font-size="10" dy="3">p</tspan>'}], 'beta-legend');

tsPanel('proton-number-density', 2638, 2859, 0.30, 0.60, range(0.30, 0.60, 0.05), range(0.30, 0.60, 0.05).map(v => v.toFixed(2)),
  'Proton Number Density', 'Np(#/cc)',
  [{t: npT, v: npV, color: '#0000ff', name: 'np'}], false);

tsPanel('proton-temperature', 2972, 3192, 0.06, 0.14, range(0.06, 0.14, 0.01), range(0.06, 0.14, 0.01).map(v => v.toFixed(2)),
  'Proton Temperature and <tspan font-style="italic" font-family="Liberation Serif, serif">T<tspan font-size="13" dy="4">e</tspan><tspan dy="-4">/T</tspan><tspan font-size="13" dy="4">p</tspan></tspan>',
  'Tp(10<tspan font-size="10" dy="-6">6</tspan><tspan dy="6">K)</tspan>',
  [{t: tpT, v: tpV, color: '#0000ff', name: 'tp'}], false);
tsLegend(123, 2979, 72, [{color: '#0000ff', label: 'Tp'}], 'temperature-legend');
</script>
</body></html>
